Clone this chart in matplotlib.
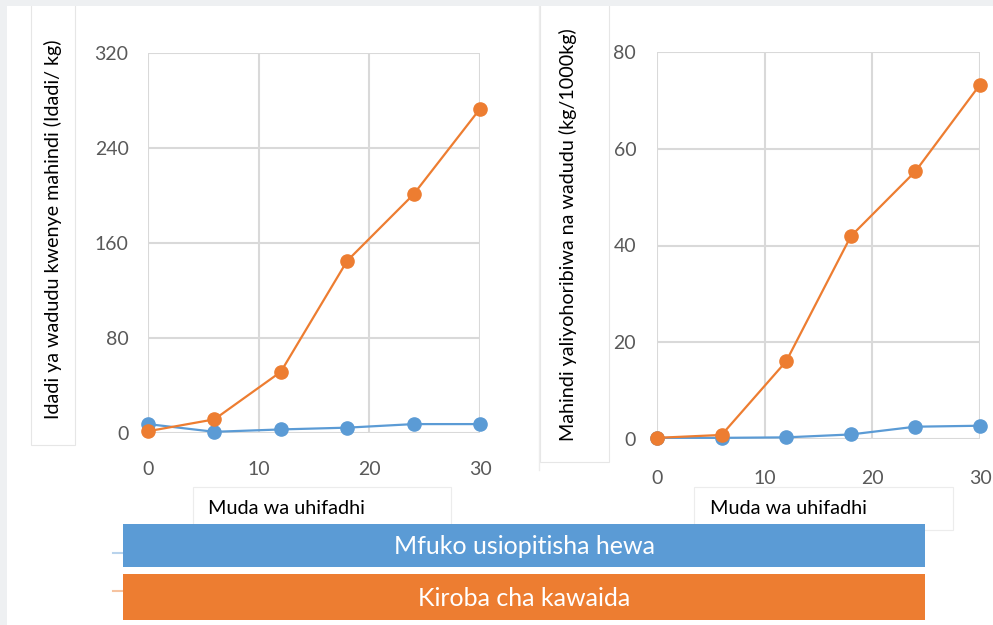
import matplotlib
matplotlib.use("Agg")
import matplotlib.pyplot as plt
from matplotlib.patches import Rectangle
from matplotlib.lines import Line2D

plt.rcParams['font.family'] = ['Lato', 'DejaVu Sans']

# Data
days = [0, 6, 12, 18, 24, 30]
left_blue = [7.5, 1, 3, 4.5, 7.5, 7.5]
left_orange = [1.5, 11.5, 51.5, 145, 201, 273]
right_blue = [0.3, 0.3, 0.4, 1.0, 2.6, 2.8]
right_orange = [0.3, 0.9, 16.1, 41.9, 55.3, 73.2]

left_yticks = [0, 80, 160, 240, 320]
right_yticks = [0, 20, 40, 60, 80]
xticks = [0, 10, 20, 30]

left_ylabel = "Idadi ya wadudu kwenye mahindi (Idadi/ kg)"
right_ylabel = "Mahindi yaliyohoribiwa na wadudu (kg/1000kg)"
xlabel = "Muda wa uhifadhi"
series_names = ["Mfuko usiopitisha hewa", "Kiroba cha kawaida"]

BLUE = "#5B9BD5"
ORANGE = "#ED7D31"
GRID = "#d9d9d9"
TICK = "#595959"

W, H = 993, 625
fig = plt.figure(figsize=(W / 100, H / 100), dpi=100)
fig.patch.set_facecolor("white")


def px_rect(x0, y0, x1, y1, **kw):
    r = Rectangle((x0 / W, 1 - y1 / H), (x1 - x0) / W, (y1 - y0) / H,
                  transform=fig.transFigure, **kw)
    fig.patches.append(r)
    return r


# y-label boxes
px_rect(31, 0, 75, 445, facecolor="white", edgecolor="#e6e6e6", lw=0.8, zorder=1)
px_rect(540, 0, 609, 462, facecolor="white", edgecolor="#e6e6e6", lw=0.8, zorder=1)
# x-label boxes
px_rect(193, 487, 451, 535, facecolor="white", edgecolor="#ececec", lw=0.8, zorder=1)
px_rect(694, 487, 953, 530, facecolor="white", edgecolor="#ececec", lw=0.8, zorder=1)

# grey outer frame (top & left)
px_rect(0, 0, W, 6, facecolor="#eef0f2", edgecolor="none", zorder=2)
px_rect(0, 0, 7, H, facecolor="#eef0f2", edgecolor="none", zorder=2)
# faint separator between panels
fig.add_artist(Line2D([539 / W, 539 / W], [1 - 6 / H, 1 - 470 / H],
                      transform=fig.transFigure, color="#ececec", lw=1))

fig.text(53 / W, 1 - 229 / H, left_ylabel, rotation=90, ha="center", va="center",
         fontsize=14.2, color="black")
fig.text(568 / W, 1 - 235 / H, right_ylabel, rotation=90, ha="center", va="center",
         fontsize=14.2, color="black")
fig.text(208 / W, 1 - 508 / H, xlabel, ha="left", va="center", fontsize=14.3, color="black")
fig.text(710 / W, 1 - 508 / H, xlabel, ha="left", va="center", fontsize=14.3, color="black")


def make_ax(x0, y0, x1, y1, ymax, yticks, blue, orange, xpad, ypad):
    ax = fig.add_axes([x0 / W, 1 - y1 / H, (x1 - x0) / W, (y1 - y0) / H])
    ax.set_facecolor("white")
    ax.set_xlim(0, 30)
    ax.set_ylim(0, ymax)
    ax.set_xticks(xticks)
    ax.set_yticks(yticks)
    ax.grid(True, color=GRID, lw=1.5)
    ax.set_axisbelow(True)
    for s in ax.spines.values():
        s.set_visible(False)
    ax.tick_params(length=0, labelsize=14, labelcolor=TICK)
    ax.tick_params(axis="x", pad=xpad)
    ax.tick_params(axis="y", pad=ypad)
    ax.plot(days, blue, color=BLUE, lw=1.6, marker="o", ms=9.5, mec=BLUE,
            clip_on=False, zorder=3)
    ax.plot(days, orange, color=ORANGE, lw=1.6, marker="o", ms=9.5, mec=ORANGE,
            clip_on=False, zorder=4)
    return ax


make_ax(148, 53, 480, 433, 320, left_yticks, left_blue, left_orange, 20, 14)
make_ax(657, 51.7, 980, 439.3, 80, right_yticks, right_blue, right_orange, 22, 15)

# legend
px_rect(123, 524, 925, 567, facecolor=BLUE, edgecolor="none", zorder=5)
px_rect(123, 574, 925, 620, facecolor=ORANGE, edgecolor="none", zorder=5)
fig.add_artist(Line2D([113 / W, 123 / W], [1 - 553 / H, 1 - 553 / H],
                      transform=fig.transFigure, color="#b9d3ec", lw=1.5))
fig.add_artist(Line2D([113 / W, 123 / W], [1 - 591 / H, 1 - 591 / H],
                      transform=fig.transFigure, color="#f6c3a0", lw=1.5))
fig.text(524 / W, 1 - 546 / H, series_names[0], ha="center", va="center",
         fontsize=18, color="white", zorder=6)
fig.text(524 / W, 1 - 598 / H, series_names[1], ha="center", va="center",
         fontsize=18, color="white", zorder=6)

fig.savefig("out.png", dpi=100, facecolor=fig.get_facecolor())
